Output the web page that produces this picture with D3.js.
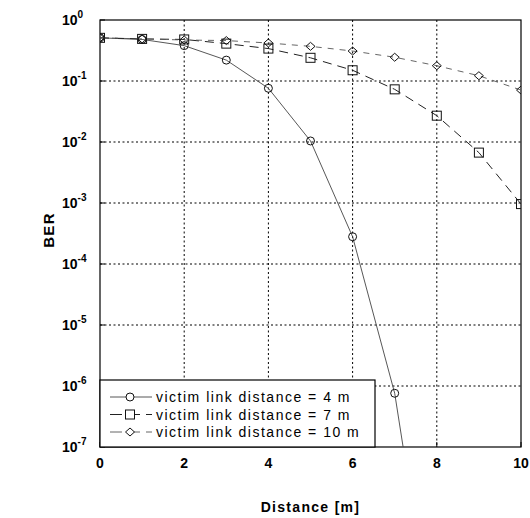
<!DOCTYPE html>
<html><head><meta charset="utf-8">
<script src="https://cdn.jsdelivr.net/npm/d3@7"></script>
<style>body{margin:0;background:#fff}svg{display:block}</style>
</head><body>
<svg id="c" width="530" height="518"></svg>
<script>
const distances = [0,1,2,3,4,5,6,7,8,9,10];
const ber4m  = [0.51,0.48,0.38,0.22,0.076,0.0104,2.8e-4,7.6e-7,3e-11];
const ber7m  = [0.51,0.49,0.48,0.41,0.34,0.24,0.15,0.073,0.027,0.0067,9.6e-4];
const ber10m = [0.51,0.49,0.47,0.46,0.42,0.37,0.31,0.245,0.178,0.122,0.071];
const xTicks = [0,2,4,6,8,10];
const yExps = [0,-1,-2,-3,-4,-5,-6,-7];
const seriesNames = ["victim link distance = 4 m","victim link distance = 7 m","victim link distance = 10 m"];

const svg = d3.select("#c");
const L=100,R=521,T=20,B=447;
const x = d3.scaleLinear().domain([0,10]).range([L,R]);
const y = d3.scaleLog().domain([1e-7,1]).range([B,T]);
const font = "Liberation Sans, Arial, sans-serif";

// grid
const g = svg.append("g");
g.selectAll(".vg").data(xTicks.slice(1,-1)).join("line")
  .attr("x1",d=>x(d)).attr("x2",d=>x(d)).attr("y1",T).attr("y2",B)
  .attr("stroke","#000").attr("stroke-width",1).attr("stroke-dasharray","2,2.5");
g.selectAll(".hg").data(yExps.slice(1,-1)).join("line")
  .attr("x1",L).attr("x2",R).attr("y1",d=>y(Math.pow(10,d))).attr("y2",d=>y(Math.pow(10,d)))
  .attr("stroke","#000").attr("stroke-width",1).attr("stroke-dasharray","2,2.5");

// frame
svg.append("rect").attr("x",L).attr("y",T).attr("width",R-L).attr("height",B-T)
  .attr("fill","none").attr("stroke","#000").attr("stroke-width",1.2);

// ticks
svg.selectAll(".xt").data(xTicks).join("line").attr("x1",d=>x(d)).attr("x2",d=>x(d))
  .attr("y1",B).attr("y2",B-5).attr("stroke","#000");
svg.selectAll(".yt").data(yExps).join("line").attr("y1",d=>y(Math.pow(10,d))).attr("y2",d=>y(Math.pow(10,d)))
  .attr("x1",L).attr("x2",L+5).attr("stroke","#000");

// tick labels
svg.selectAll(".xl").data(xTicks).join("text")
  .attr("x",d=>x(d)).attr("y",B+21).attr("text-anchor","middle")
  .attr("font-family",font).attr("font-size",14).attr("font-weight","bold").text(d=>d);
const yl = svg.selectAll(".yl").data(yExps).join("text")
  .attr("x",62).attr("y",d=>y(Math.pow(10,d))+5)
  .attr("font-family",font).attr("font-weight","bold").attr("font-size",14);
yl.append("tspan").text("10");
yl.append("tspan").attr("dy",-7).attr("font-size",10).text(d=>d);

// axis titles
svg.append("text").attr("x",(L+R)/2).attr("y",512).attr("text-anchor","middle")
  .attr("font-family",font).attr("font-weight","bold").attr("font-size",14)
  .attr("letter-spacing","1.3").text("Distance [m]");
svg.append("text").attr("transform","translate(54,230) rotate(-90)").attr("text-anchor","middle")
  .attr("font-family",font).attr("font-weight","bold").attr("font-size",15)
  .attr("letter-spacing","1.3").text("BER");

// clip
svg.append("clipPath").attr("id","pc").append("rect").attr("x",L).attr("y",T).attr("width",R-L).attr("height",B-T);
const plot = svg.append("g").attr("clip-path","url(#pc)");

const line = d3.line().x((d,i)=>x(distances[i])).y(d=>y(d));
const series = [
  {v:ber4m, dash:null, sym:"circle", stroke:"#444", w:0.9},
  {v:ber7m, dash:"9,6", sym:"square", stroke:"#222", w:1},
  {v:ber10m, dash:"6,6", sym:"diamond", stroke:"#555", w:0.9}
];
function drawSym(sel, sym, cx, cy){
  if(sym==="circle") sel.append("circle").attr("cx",cx).attr("cy",cy).attr("r",4);
  else if(sym==="square") sel.append("rect").attr("x",cx-4.5).attr("y",cy-4.5).attr("width",9).attr("height",9);
  else sel.append("path").attr("d",`M${cx},${cy-4}L${cx+4.5},${cy}L${cx},${cy+4}L${cx-4.5},${cy}Z`);
}
series.forEach(s=>{
  plot.append("path").datum(s.v).attr("d",line).attr("fill","none").attr("stroke",s.stroke)
    .attr("stroke-width",s.w).attr("stroke-dasharray",s.dash);
  const mg = plot.append("g").attr("fill","none").attr("stroke","#111").attr("stroke-width",1);
  s.v.forEach((v,i)=>{ if(v>=1e-7) drawSym(mg,s.sym,x(distances[i]),y(v)); });
});

// legend
const lg = svg.append("g");
lg.append("rect").attr("x",L).attr("y",380).attr("width",275).attr("height",B-380)
  .attr("fill","#fff").attr("stroke","#000").attr("stroke-width",1.2);
series.forEach((s,i)=>{
  const yy = 397 + i*17.5;
  lg.append("line").attr("x1",110).attr("x2",152).attr("y1",yy).attr("y2",yy)
    .attr("stroke",s.stroke).attr("stroke-width",s.w).attr("stroke-dasharray",s.dash?"12,6":null);
  const mg = lg.append("g").attr("fill","#fff").attr("stroke","#111");
  drawSym(mg,s.sym,130,yy);
  lg.append("text").attr("x",156).attr("y",yy+5).attr("font-family",font).attr("font-size",14)
    .attr("letter-spacing","1.5").text(seriesNames[i]);
});
</script>
</body></html>
